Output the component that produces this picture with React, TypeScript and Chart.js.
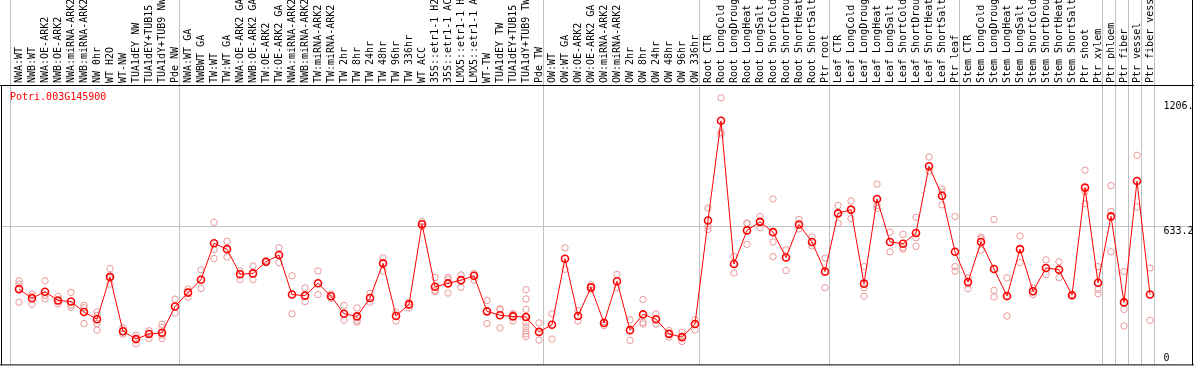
import React, { useEffect, useRef } from 'react';
import { Chart, registerables } from 'chart.js';

Chart.register(...registerables);

const geneId = 'Potri.003G145900';

const categories: string[] = [
  'NWA:WT', 'NWB:WT', 'NWA:OE-ARK2', 'NWB:OE-ARK2', 'NWA:miRNA-ARK2', 'NWB:miRNA-ARK2', 'NW 0hr', 'WT H2O', 'WT-NW',
  'TUA1dEY NW', 'TUA1dEY+TUB15 NW', 'TUA1dY+TUB9 NW', 'Pde NW',
  'NWA:WT GA', 'NWBWT GA', 'TW:WT', 'TW:WT GA', 'NWA:OE-ARK2 GA', 'NWB:OE-ARK2 GA', 'TW:OE-ARK2', 'TW:OE-ARK2 GA',
  'NWA:miRNA-ARK2 GA', 'NWB:miRNA-ARK2 GA', 'TW:miRNA-ARK2', 'TW:miRNA-ARK2 GA', 'TW 2hr', 'TW 8hr', 'TW 24hr',
  'TW 48hr', 'TW 96hr', 'TW 336hr', 'WT ACC', '35S::etr1-1 H2O', '35S::etr1-1 ACC', 'LMX5::etr1-1 H2O',
  'LMX5::etr1-1 ACC', 'WT-TW', 'TUA1dEY TW', 'TUA1dEY+TUB15 TW', 'TUA1dY+TUB9 TW', 'Pde TW',
  'OW:WT', 'OW:WT GA', 'OW:OE-ARK2', 'OW:OE-ARK2 GA', 'OW:miRNA-ARK2', 'OW:miRNA-ARK2 GA', 'OW 2hr', 'OW 8hr',
  'OW 24hr', 'OW 48hr', 'OW 96hr', 'OW 336hr',
  'Root CTR', 'Root LongCold', 'Root LongDrought', 'Root LongHeat', 'Root LongSalt', 'Root ShortCold',
  'Root ShortDrought', 'Root ShortHeat', 'Root ShortSalt', 'Ptr root',
  'Leaf CTR', 'Leaf LongCold', 'Leaf LongDrought', 'Leaf LongHeat', 'Leaf LongSalt', 'Leaf ShortCold',
  'Leaf ShortDrought', 'Leaf ShortHeat', 'Leaf ShortSalt', 'Ptr leaf',
  'Stem CTR', 'Stem LongCold', 'Stem LongDrought', 'Stem LongHeat', 'Stem LongSalt', 'Stem ShortCold',
  'Stem ShortDrought', 'Stem ShortHeat', 'Stem ShortSalt', 'Ptr shoot', 'Ptr xylem',
  'Ptr phloem', 'Ptr fiber', 'Ptr vessel', 'Ptr fiber vessel',
];

const means: number[] = [
  345, 303, 333, 293, 288, 240, 207, 401, 152, 116, 139, 145, 265,
  329, 388, 555, 528, 413, 417, 470, 501, 320, 315, 372, 312, 232, 220, 304, 463, 222, 275, 642, 356, 371, 386, 406,
  243, 225, 220, 217, 149,
  182, 484, 222, 353, 190, 381, 157, 229, 207, 140, 125, 185,
  659, 1116, 460, 614, 653, 606, 490, 641, 561, 425,
  692, 709, 370, 758, 561, 553, 602, 908, 773, 516,
  377, 561, 437, 313, 528, 335, 442, 434, 317, 810, 374,
  678, 284, 840, 320,
];

const replicates: number[][] = [
  [383, 368, 285], [322, 312, 275], [383, 316, 300], [312, 290, 277], [330, 272, 262], [270, 259, 187],
  [240, 225, 187, 157], [439, 396, 368], [167, 139], [134, 116, 94], [154, 142, 119], [184, 169, 134, 119],
  [299, 235],
  [345, 308], [433, 348], [651, 526, 485], [564, 492], [428, 388], [451, 388], [474, 466], [534, 466],
  [406, 232], [350, 288], [428, 320], [322, 303], [270, 202], [259, 202, 194], [326, 285], [488, 428],
  [240, 199], [285, 259], [654, 632], [398, 340, 333], [398, 390, 327], [410, 353], [416, 386], [293, 187],
  [255, 250, 167], [232, 228, 199], [342, 300, 252, 217, 190, 172, 154, 139, 127], [190, 112],
  [232, 116], [534, 436], [247, 199], [365, 341], [196, 178], [412, 351], [204, 110], [297, 193, 185],
  [231, 185], [155, 125], [148, 105], [204, 158],
  [716, 633, 618], [1221, 1063, 1055], [494, 419], [648, 645, 550], [678, 626], [758, 561, 494], [525, 430],
  [664, 621], [583, 543], [487, 351],
  [728, 647], [749, 668], [448, 351, 312], [826, 728, 716], [606, 516], [596, 535, 528], [674, 580, 541],
  [950, 886], [804, 790, 731], [678, 448, 427],
  [397, 347], [583, 575, 523], [664, 339, 309], [397, 222], [588, 467], [350, 320], [479, 412], [470, 397],
  [320, 314], [890, 792, 736], [448, 344, 324],
  [819, 701, 516], [425, 252, 176], [958, 721], [442, 202],
];

const groupBoundaries: number[] = [0, 13, 41, 53, 63, 73, 84, 85, 86, 87, 88];
const yTickValues: number[] = [1206.4, 633.2, 0];
const yTickLabels: string[] = ['1206.', '633.2', '0'];
const gridValue = 633.2;
const yMax = 1275.5;

const MONO = '"DejaVu Sans Mono", "Liberation Mono", monospace';
const RED = '#ff0000';
const PINK = '#ec9898';
const GRID = '#c0c0c0';

const replicatePoints = replicates.flatMap((vals, i) => vals.map((v) => ({ x: i, y: v })));
const meanPoints = means.map((v, i) => ({ x: i, y: v }));

const framePlugin = {
  id: 'eframe',
  beforeDatasetsDraw(chart: any) {
    const { ctx, chartArea, scales, width } = chart;
    const x = scales.x;
    const y = scales.y;
    ctx.save();
    ctx.lineWidth = 1;
    ctx.strokeStyle = GRID;
    const gy = Math.round(y.getPixelForValue(gridValue)) + 0.5;
    ctx.beginPath();
    ctx.moveTo(1, gy);
    ctx.lineTo(width - 1, gy);
    ctx.stroke();
    groupBoundaries.forEach((k) => {
      const px = Math.floor(x.getPixelForValue(k - 0.5) - 2) + 0.5;
      ctx.beginPath();
      ctx.moveTo(px, 0);
      ctx.lineTo(px, chartArea.bottom);
      ctx.stroke();
    });
    ctx.restore();
  },
  afterDraw(chart: any) {
    const { ctx, chartArea, scales, width } = chart;
    const y = scales.y;
    ctx.save();
    ctx.strokeStyle = '#000';
    ctx.lineWidth = 1;
    const topLine = chartArea.top - 0.5;
    const bottomLine = chartArea.bottom + 0.5;
    ctx.beginPath();
    ctx.moveTo(0, topLine);
    ctx.lineTo(width, topLine);
    ctx.moveTo(0, bottomLine);
    ctx.lineTo(width, bottomLine);
    ctx.moveTo(1.5, topLine);
    ctx.lineTo(1.5, bottomLine);
    ctx.moveTo(width - 1.5, 0);
    ctx.lineTo(width - 1.5, bottomLine);
    ctx.stroke();
    ctx.font = `10px ${MONO}`;
    ctx.fillStyle = RED;
    ctx.textAlign = 'left';
    ctx.textBaseline = 'middle';
    ctx.fillText(geneId, 10, chartArea.top + 11);
    ctx.fillStyle = '#000';
    yTickValues.forEach((v, i) => {
      const py = y.getPixelForValue(v);
      if (v === 0) {
        ctx.textBaseline = 'middle';
        ctx.fillText(yTickLabels[i], chartArea.right + 7, py - 6);
      } else {
        ctx.textBaseline = 'top';
        ctx.fillText(yTickLabels[i], chartArea.right + 7, py);
      }
    });
    ctx.restore();
  },
};

export default function App() {
  const canvasRef = useRef<HTMLCanvasElement | null>(null);

  useEffect(() => {
    document.body.style.margin = '0';
    const canvas = canvasRef.current;
    if (!canvas) return;
    const chart = new Chart(canvas, {
      type: 'line',
      data: {
        datasets: [
          {
            type: 'line',
            label: 'mean',
            data: meanPoints,
            borderColor: RED,
            borderWidth: 1,
            pointRadius: 3.5,
            pointBorderWidth: 1.6,
            pointBorderColor: RED,
            pointBackgroundColor: 'rgba(0,0,0,0)',
            tension: 0,
            order: 0,
          },
          {
            type: 'scatter',
            label: 'replicates',
            data: replicatePoints,
            showLine: false,
            pointRadius: 3.2,
            pointBorderWidth: 1,
            pointBorderColor: PINK,
            pointBackgroundColor: 'rgba(0,0,0,0)',
            order: 1,
          },
        ],
      },
      options: {
        animation: false,
        responsive: false,
        events: [],
        layout: { padding: { left: 12.5, right: 37.5, top: 0, bottom: 2 } },
        plugins: { legend: { display: false }, tooltip: { enabled: false } },
        scales: {
          x: {
            type: 'linear',
            position: 'top',
            min: -0.5,
            max: 87.5,
            afterBuildTicks: (s: any) => {
              s.ticks = categories.map((_, i) => ({ value: i }));
            },
            afterFit: (s: any) => {
              s.height = 86;
            },
            ticks: {
              autoSkip: false,
              minRotation: 90,
              maxRotation: 90,
              padding: 3,
              labelOffset: 12,
              color: '#000',
              font: { family: MONO, size: 10 },
              callback: (_v: any, i: number) => categories[i],
            },
            grid: { display: false, drawTicks: false },
            border: { display: false },
          },
          y: {
            type: 'linear',
            display: false,
            min: 0,
            max: yMax,
          },
        },
      },
      plugins: [framePlugin],
    });
    return () => chart.destroy();
  }, []);

  return (
    <div style={{ width: 1194, height: 370 }}>
      <canvas ref={canvasRef} width={1194} height={370} style={{ display: 'block' }} />
    </div>
  );
}
